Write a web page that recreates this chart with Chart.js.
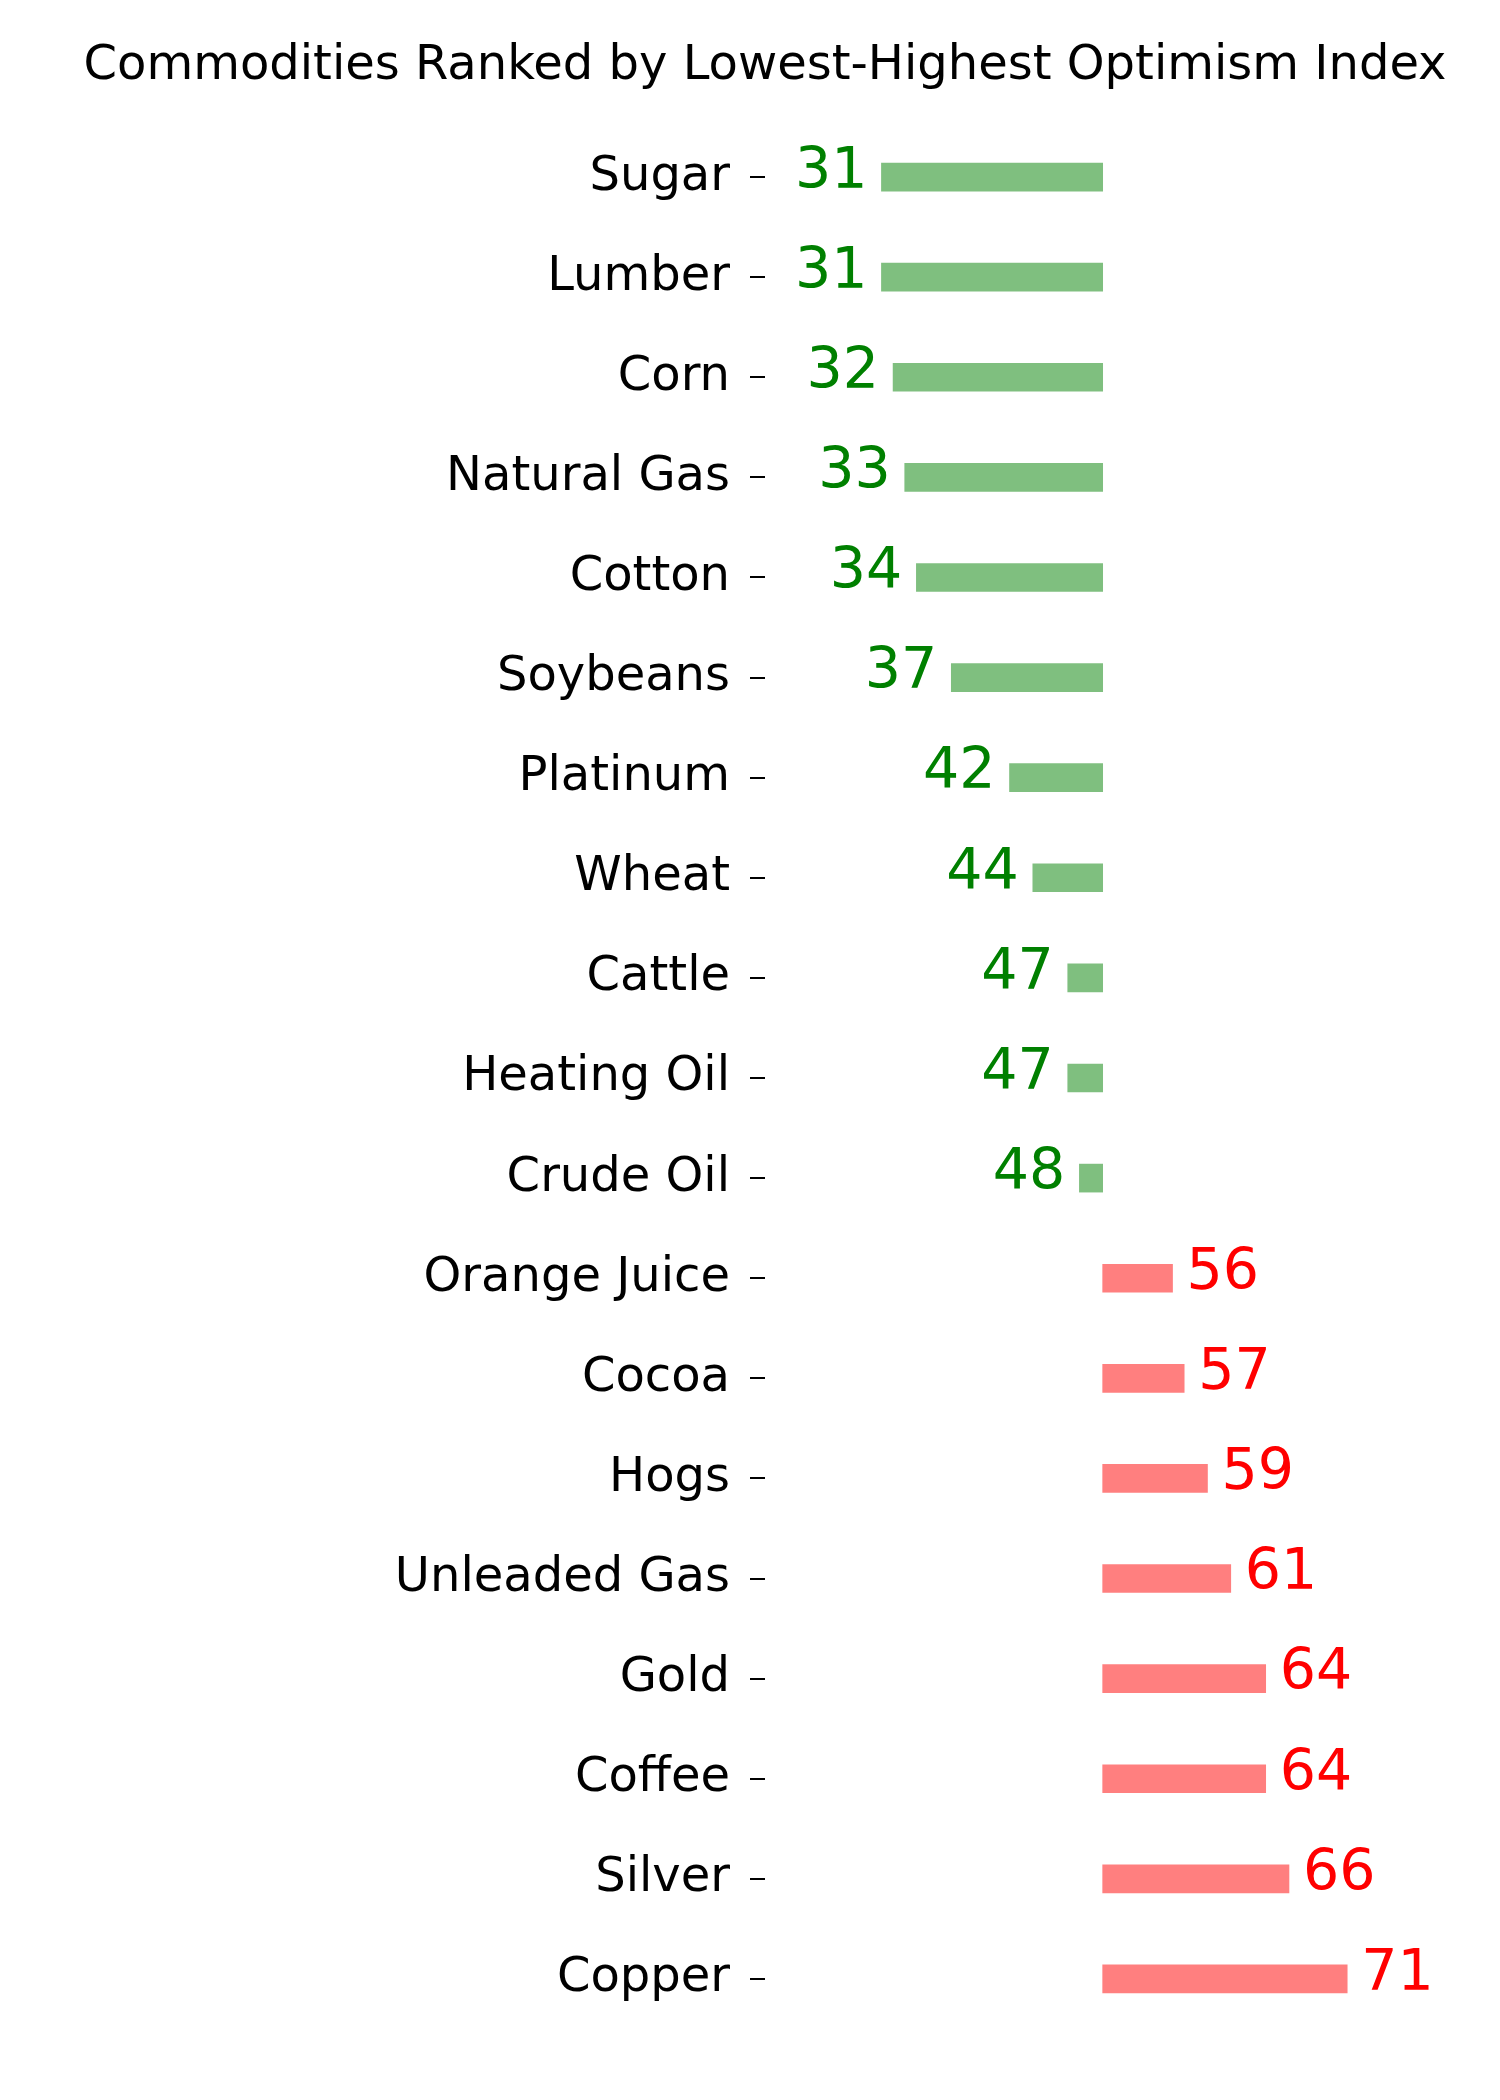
<!DOCTYPE html>
<html lang="en">
<head>
<meta charset="UTF-8">
<title>Optimism Index</title>
<script src="https://cdn.jsdelivr.net/npm/chart.js@4.4.0/dist/chart.umd.min.js"></script>
<style>
  body { margin: 0; background: #fff; }
  #wrap { width: 1500px; height: 2100px; }
</style>
</head>
<body>
<div id="wrap"><canvas id="chart1" width="1500" height="2100"></canvas></div>
<script>
var commodities = ["Sugar", "Lumber", "Corn", "Natural Gas", "Cotton", "Soybeans", "Platinum", "Wheat",
    "Cattle", "Heating Oil", "Crude Oil", "Orange Juice", "Cocoa", "Hogs", "Unleaded Gas", "Gold",
    "Coffee", "Silver", "Copper"];
var optimism = [31, 31, 32, 33, 34, 37, 42, 44, 47, 47, 48, 56, 57, 59, 61, 64, 64, 66, 71];
var neutral = 50;
var titleText = "Commodities Ranked by Lowest-Highest Optimism Index";

var fontFamily = "'DejaVu Sans', sans-serif";
var barColors = optimism.map(v => v < neutral ? "rgba(0,128,0,0.5)" : "rgba(255,0,0,0.5)");
var textColors = optimism.map(v => v < neutral ? "green" : "red");

var labelPlugin = {
    id: "valueLabels",
    afterDatasetsDraw(chart) {
        let ctx = chart.ctx;
        let meta = chart.getDatasetMeta(0);
        let xScale = chart.scales.x;
        ctx.save();
        ctx.font = "57px " + fontFamily;
        ctx.textBaseline = "middle";
        meta.data.forEach((bar, i) => {
            let v = optimism[i];
            let px = xScale.getPixelForValue(v);
            ctx.fillStyle = textColors[i];
            if (v < neutral) {
                ctx.textAlign = "right";
                ctx.fillText(String(v), px - 14, bar.y - 4);
            } else {
                ctx.textAlign = "left";
                ctx.fillText(String(v), px + 14, bar.y - 4);
            }
        });
        ctx.fillStyle = "black";
        ctx.font = "48px " + fontFamily;
        ctx.textAlign = "center";
        ctx.fillText(titleText, 765, 67);
        ctx.restore();
    }
};

new Chart(document.getElementById("chart1").getContext("2d"), {
    type: "bar",
    data: {
        labels: commodities,
        datasets: [{
            data: optimism.map(v => [neutral, v]),
            backgroundColor: barColors,
            borderWidth: 0,
            barThickness: 28
        }]
    },
    options: {
        indexAxis: "y",
        responsive: false,
        animation: false,
        layout: { padding: { top: 127, bottom: 71, left: 0, right: 48 } },
        plugins: { legend: { display: false }, tooltip: { enabled: false }, title: { display: false } },
        scales: {
            x: { display: false, min: 21, max: 80 },
            y: {
                afterFit(scale) { scale.width = 765; },
                border: { display: false },
                grid: { offset: false, drawOnChartArea: false, drawTicks: true, tickLength: 15, color: "black", lineWidth: 2 },
                ticks: { color: "black", padding: 20, font: { family: fontFamily, size: 48 } }
            }
        }
    },
    plugins: [labelPlugin]
});
</script>
</body>
</html>
